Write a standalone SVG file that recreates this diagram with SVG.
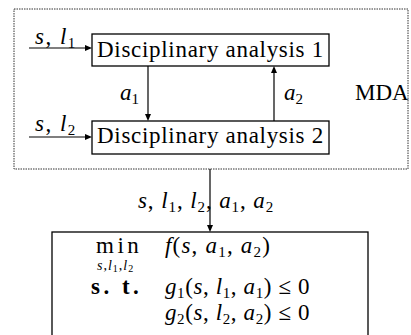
<svg xmlns="http://www.w3.org/2000/svg" width="411" height="335" viewBox="0 0 411 335">
<rect x="14" y="9" width="394" height="160" fill="none" stroke="#333" stroke-width="1" stroke-dasharray="1.5 1"/>
<text x="355" y="100" font-family="Liberation Serif" font-size="23">MDA</text>
<g id="da1">
  <rect x="92" y="34" width="237" height="32" fill="#fff" stroke="#000" stroke-width="1.3"/>
  <text x="97" y="57" font-family="Liberation Serif" font-size="23" letter-spacing="0.7">Disciplinary analysis 1</text>
</g>
<g id="da2">
  <rect x="92" y="121" width="237" height="33" fill="#fff" stroke="#000" stroke-width="1.3"/>
  <text x="97" y="143" font-family="Liberation Serif" font-size="23" letter-spacing="0.7">Disciplinary analysis 2</text>
</g>
<g id="opt">
  <rect x="52" y="232" width="316" height="120" fill="#fff" stroke="#000" stroke-width="1.3"/>
  <text x="96" y="253" font-family="Liberation Serif" font-size="23" letter-spacing="3.5">min</text>
  <text x="97" y="270" font-family="Liberation Serif" font-size="14" letter-spacing="1"><tspan font-style="italic">s</tspan>,<tspan font-style="italic">l</tspan><tspan font-size="10" dy="2">1</tspan><tspan dy="-2">,</tspan><tspan font-style="italic">l</tspan><tspan font-size="10" dy="2">2</tspan></text>
  <text x="91" y="294" font-family="Liberation Serif" font-size="23" font-weight="bold" letter-spacing="3.5">s. t.</text>
  <text x="165" y="253" font-family="Liberation Serif" font-size="23" letter-spacing="1.2"><tspan font-style="italic">f</tspan>(<tspan font-style="italic">s</tspan>, <tspan font-style="italic">a</tspan><tspan font-size="15" dy="4">1</tspan><tspan dy="-4">, </tspan><tspan font-style="italic">a</tspan><tspan font-size="15" dy="4">2</tspan><tspan dy="-4">)</tspan></text>
  <text x="165" y="294" font-family="Liberation Serif" font-size="23" letter-spacing="0.6"><tspan font-style="italic">g</tspan><tspan font-size="15" dy="4">1</tspan><tspan dy="-4">(</tspan><tspan font-style="italic">s</tspan>, <tspan font-style="italic">l</tspan><tspan font-size="15" dy="4">1</tspan><tspan dy="-4">, </tspan><tspan font-style="italic">a</tspan><tspan font-size="15" dy="4">1</tspan><tspan dy="-4">) ≤ 0</tspan></text>
  <text x="165" y="320" font-family="Liberation Serif" font-size="23" letter-spacing="0.6"><tspan font-style="italic">g</tspan><tspan font-size="15" dy="4">2</tspan><tspan dy="-4">(</tspan><tspan font-style="italic">s</tspan>, <tspan font-style="italic">l</tspan><tspan font-size="15" dy="4">2</tspan><tspan dy="-4">, </tspan><tspan font-style="italic">a</tspan><tspan font-size="15" dy="4">2</tspan><tspan dy="-4">) ≤ 0</tspan></text>
</g>
<g id="connectors" stroke="#000" stroke-width="1.2" fill="none">
  <path d="M29,48 H86"/>
  <path d="M29,137 H86"/>
  <path d="M148,66 V115"/>
  <path d="M274,121 V72"/>
  <path d="M210,169 V226"/>
  <g fill="#000" stroke="none">
    <path d="M92,48 L85,45 L85,51 z"/>
    <path d="M92,137 L85,134 L85,140 z"/>
    <path d="M148,121 L145,114 L151,114 z"/>
    <path d="M274,66 L271,73 L277,73 z"/>
    <path d="M210,232 L207,225 L213,225 z"/>
  </g>
</g>
<g id="edge-labels">
  <text x="35" y="44" font-family="Liberation Serif" font-size="23" letter-spacing="1.5"><tspan font-style="italic">s</tspan>, <tspan font-style="italic">l</tspan><tspan font-size="15" dy="4">1</tspan></text>
  <text x="35" y="131" font-family="Liberation Serif" font-size="23" letter-spacing="1.5"><tspan font-style="italic">s</tspan>, <tspan font-style="italic">l</tspan><tspan font-size="15" dy="4">2</tspan></text>
  <text x="120" y="100" font-family="Liberation Serif" font-size="23"><tspan font-style="italic">a</tspan><tspan font-size="15" dy="4">1</tspan></text>
  <text x="284" y="100" font-family="Liberation Serif" font-size="23"><tspan font-style="italic">a</tspan><tspan font-size="15" dy="4">2</tspan></text>
  <text x="138" y="208" font-family="Liberation Serif" font-size="23" letter-spacing="0.9"><tspan font-style="italic">s</tspan>, <tspan font-style="italic">l</tspan><tspan font-size="15" dy="4">1</tspan><tspan dy="-4">, </tspan><tspan font-style="italic">l</tspan><tspan font-size="15" dy="4">2</tspan><tspan dy="-4">, </tspan><tspan font-style="italic">a</tspan><tspan font-size="15" dy="4">1</tspan><tspan dy="-4">, </tspan><tspan font-style="italic">a</tspan><tspan font-size="15" dy="4">2</tspan></text>
</g>
</svg>
